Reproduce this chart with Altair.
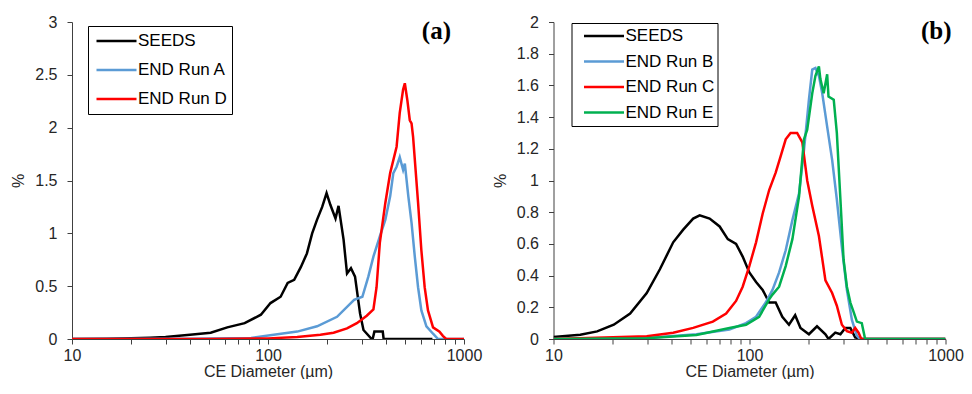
import altair as alt
import pandas as pd

# ---------------- data ----------------
# Panel (a)
seeds_a_d = [10, 15, 20, 25, 30, 40, 51, 62, 76, 92, 103, 116, 126, 136, 147, 158, 168, 178,
             189, 199, 208, 221, 229, 243, 253, 265, 278, 295, 307, 338, 342, 349, 385, 389, 690]
seeds_a_v = [0.0, 0.003, 0.006, 0.012, 0.02, 0.04, 0.06, 0.11, 0.15, 0.23, 0.34, 0.40, 0.53, 0.56,
             0.68, 0.81, 1.0, 1.13, 1.25, 1.38, 1.27, 1.14, 1.26, 0.94, 0.62, 0.67, 0.59, 0.24,
             0.085, 0.0, 0.0, 0.07, 0.07, 0.0, 0.0]

runA_d = [10, 40, 82, 107, 141, 178, 225, 275, 303, 325, 345, 372, 397, 420, 436, 453, 470, 489,
          499, 520, 540, 561, 583, 606, 643, 695, 737, 1000]
runA_v = [0.0, 0.002, 0.01, 0.04, 0.07, 0.12, 0.21, 0.37, 0.40, 0.59, 0.78, 0.97, 1.13, 1.35, 1.57,
          1.63, 1.72, 1.60, 1.66, 1.35, 1.10, 0.78, 0.49, 0.27, 0.12, 0.05, 0.0, 0.0]

runD_d = [10, 50, 100, 141, 185, 216, 253, 284, 319, 345, 358, 372, 397, 420, 453, 470, 489, 499,
          514, 529, 540, 550, 583, 606, 630, 655, 695, 750, 780, 811, 1000]
runD_v = [0.0, 0.0, 0.005, 0.02, 0.04, 0.06, 0.10, 0.15, 0.22, 0.28, 0.49, 0.91, 1.29, 1.57, 1.82,
          2.14, 2.36, 2.42, 2.26, 2.07, 2.04, 1.91, 1.29, 0.84, 0.49, 0.27, 0.11, 0.07, 0.03, 0.0, 0.0]

# Panel (b)
seeds_b_d = [10, 13.7, 16.7, 20.3, 24.6, 29.9, 34.9, 40.8, 45.9, 51.6, 55.7, 62.6, 70.4, 77.5,
             85.4, 92.3, 99.8, 108, 116.7, 126, 136, 147, 159, 171, 182, 201, 221, 244, 253, 274,
             291, 308, 327, 346, 372, 1000]
seeds_b_v = [0.013, 0.027, 0.048, 0.09, 0.16, 0.29, 0.44, 0.61, 0.69, 0.76, 0.78, 0.76, 0.71, 0.63,
             0.60, 0.52, 0.42, 0.36, 0.31, 0.23, 0.23, 0.14, 0.09, 0.15, 0.07, 0.03, 0.08, 0.03,
             0.0, 0.04, 0.03, 0.07, 0.07, 0.01, 0.0, 0.0]

runB_d = [10, 29.9, 53.6, 79, 96, 108, 121, 131, 141.6, 153, 165.5, 179, 189.6, 201, 209, 217,
          226, 235, 249, 264, 279, 296, 314, 333, 353, 366, 1000]
runB_v = [0.0, 0.006, 0.03, 0.06, 0.10, 0.14, 0.23, 0.31, 0.42, 0.56, 0.75, 0.92, 1.19, 1.51, 1.70,
          1.71, 1.66, 1.55, 1.34, 1.13, 0.88, 0.58, 0.31, 0.12, 0.02, 0.0, 0.0]

runC_d = [10, 29.9, 40.8, 51.6, 65, 76, 85.4, 92.3, 99.8, 108, 116.7, 126, 136, 144, 153, 162,
          175, 186, 197, 209, 226, 244, 264, 279, 296, 314, 333, 346, 360, 372, 1000]
runC_v = [0.0, 0.017, 0.04, 0.07, 0.11, 0.16, 0.24, 0.33, 0.46, 0.61, 0.79, 0.94, 1.05, 1.15, 1.26,
          1.30, 1.30, 1.24, 1.0, 0.84, 0.65, 0.37, 0.29, 0.21, 0.09, 0.05, 0.04, 0.07, 0.04, 0.0, 0.0]

runE_d = [10, 29.9, 53.6, 79, 96, 112, 126, 131, 141.6, 153, 165.5, 179, 189.6, 197, 209, 217,
          226, 230, 239, 249, 253, 269, 279, 291, 302, 314, 327, 340, 353, 374, 389, 1000]
runE_v = [0.0, 0.005, 0.025, 0.07, 0.09, 0.14, 0.25, 0.28, 0.33, 0.46, 0.63, 0.90, 1.26, 1.32,
          1.55, 1.66, 1.72, 1.64, 1.55, 1.67, 1.53, 1.51, 1.30, 0.88, 0.50, 0.33, 0.23, 0.17,
          0.11, 0.10, 0.0, 0.0]

names_a = ["SEEDS", "END Run A", "END Run D"]
colors_a = ["#000000", "#5B9BD5", "#FF0000"]
names_b = ["SEEDS", "END Run B", "END Run C", "END Run E"]
colors_b = ["#000000", "#5B9BD5", "#FF0000", "#00B050"]

x_ticks = [10, 20, 30, 40, 50, 60, 70, 80, 90, 100, 200, 300, 400, 500, 600, 700, 800, 900, 1000]
y_ticks_a = [0, 0.5, 1, 1.5, 2, 2.5, 3]
y_ticks_b = [0, 0.2, 0.4, 0.6, 0.8, 1, 1.2, 1.4, 1.6, 1.8, 2]


def frame(items):
    rows = []
    for name, ds, vs in items:
        for d, v in zip(ds, vs):
            rows.append({"series": name, "d": d, "v": v})
    return pd.DataFrame(rows)


df_a = frame([("SEEDS", seeds_a_d, seeds_a_v), ("END Run A", runA_d, runA_v),
              ("END Run D", runD_d, runD_v)])
df_b = frame([("SEEDS", seeds_b_d, seeds_b_v), ("END Run B", runB_d, runB_v),
              ("END Run C", runC_d, runC_v), ("END Run E", runE_d, runE_v)])

W, H = 392, 317


def panel(df, names, colors, ymax, yticks, tag, tag_dx, lx, ly, pad, sym_off, lab_off, row_pad):
    x = alt.X("d:Q", scale=alt.Scale(type="log", domain=[10, 1000]),
              axis=alt.Axis(values=x_ticks, title="CE Diameter (µm)", grid=False,
                            labelExpr="(datum.value == 10 || datum.value == 100 || datum.value == 1000) ? datum.value + '' : ''",
                            labelOverlap=False, labelFlush=False, tickSize=5, labelPadding=3,
                            titlePadding=0))
    y = alt.Y("v:Q", scale=alt.Scale(domain=[0, ymax], nice=False),
              axis=alt.Axis(values=yticks, format="~g", title="%", grid=False, tickSize=5,
                            labelPadding=10, titlePadding=8))
    color = alt.Color("series:N", scale=alt.Scale(domain=names, range=colors),
                      legend=alt.Legend(title=None, orient="none", legendX=lx, legendY=ly,
                                        symbolType="stroke", symbolSize=1600,
                                        symbolStrokeWidth=2.5, labelFont="Liberation Sans",
                                        labelFontSize=17, labelColor="#000000",
                                        strokeColor="#000000", fillColor="white",
                                        padding=pad, rowPadding=row_pad, clipHeight=20,
                                        symbolOffset=sym_off, labelOffset=lab_off))
    base = alt.Chart(df)
    layers = [base.transform_filter(alt.datum.series == n)
              .mark_line(strokeWidth=2.5, clip=True)
              .encode(x=x, y=y, color=color)
              for n in names]
    return alt.layer(*layers).properties(
        width=W, height=H,
        title=alt.TitleParams(tag, anchor="end", frame="group", font="Liberation Serif",
                              fontSize=25, fontWeight="bold", color="#000000", offset=0,
                              dy=30, dx=tag_dx))


pa = panel(df_a, names_a, colors_a, 3, y_ticks_a, "(a)", -13, 16, 4, 5, 2, 0, 9)
pb = panel(df_b, names_b, colors_b, 2, y_ticks_b, "(b)", 6, 18, 1, 3, 8, 0, 5.5)

chart = alt.hconcat(pa, pb, spacing=89.5, bounds="flush").resolve_scale(
    color="independent").resolve_legend(color="independent").properties(
    padding={"left": 2, "top": 6, "right": 0, "bottom": 0}).configure_view(
    stroke=None).configure_axis(
    domainColor="#404040", tickColor="#404040", labelColor="#262626",
    labelFont="Liberation Sans", labelFontSize=16, titleFont="Liberation Sans",
    titleFontSize=16, titleFontWeight="normal", titleColor="#262626")

chart.save("out.html", embed_options={"renderer": "svg", "actions": False})
